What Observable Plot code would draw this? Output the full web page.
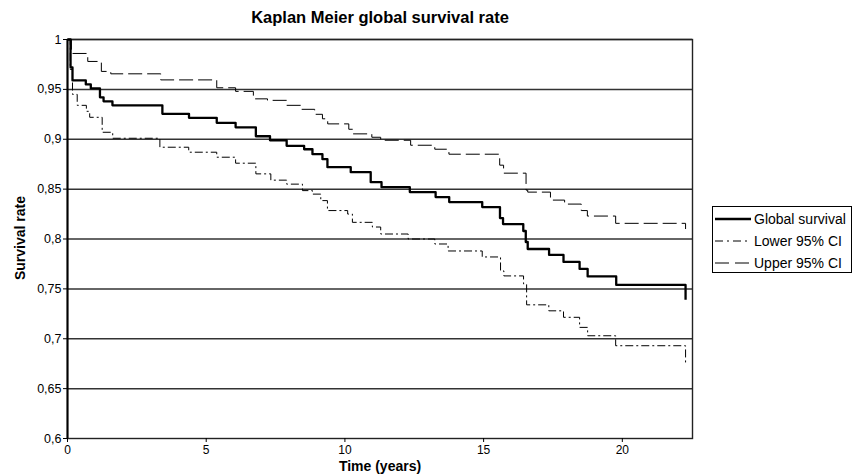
<!DOCTYPE html>
<html>
<head>
<meta charset="utf-8">
<script src="https://cdn.jsdelivr.net/npm/d3@7"></script>
<script src="https://cdn.jsdelivr.net/npm/@observablehq/plot@0.6"></script>
<style>
  html, body { margin: 0; padding: 0; background: #fff; }
  body { font-family: "Liberation Sans", Arial, sans-serif; color: #000; }
  #wrap { position: relative; width: 855px; height: 475px; overflow: hidden; }
  #title { position: absolute; left: 0; width: 760px; top: 7px; text-align: center; font-weight: bold; font-size: 16.5px; line-height: 20px; }
  #xlabel { position: absolute; left: 0; width: 760px; top: 457px; text-align: center; font-weight: bold; font-size: 14px; line-height: 18px; }
  #ylabel { position: absolute; left: 20px; top: 238px; transform: translate(-50%, -50%) rotate(-90deg); font-weight: bold; font-size: 14px; white-space: nowrap; }
  #legend { position: absolute; left: 712px; top: 206px; width: 138px; height: 65px; border: 1px solid #000; background: #fff; font-size: 14px; }
  .row { position: absolute; left: 1px; height: 20px; display: flex; align-items: center; white-space: nowrap; }
  .row svg { width: 38px; height: 10px; margin-right: 2px; flex: none; }
  #chart g[aria-label="y-axis tick label"] text { font-size: 12.5px; }
  #chart g[aria-label="x-axis tick label"] text { font-size: 12px; }
</style>
</head>
<body>
<div id="wrap">
  <div id="chart"></div>
  <div id="title">Kaplan Meier global survival rate</div>
  <div id="xlabel">Time (years)</div>
  <div id="ylabel">Survival rate</div>
  <div id="legend"></div>
</div>
<script>
// Global survival (Kaplan-Meier step function)
const globalT = [0, 0.11, 0.18, 0.66, 0.84, 1.17, 1.30, 1.62, 3.42, 4.38, 5.38, 6.06, 6.79, 7.30, 7.90, 8.53, 8.83, 9.19, 9.37, 10.21, 10.93, 11.32, 12.34, 13.27, 13.76, 14.95, 15.59, 15.70, 16.43, 16.52, 16.59, 17.36, 17.88, 18.46, 18.75, 19.78, 22.28];
const globalS = [1, 0.972, 0.959, 0.955, 0.951, 0.942, 0.938, 0.934, 0.9255, 0.9215, 0.9165, 0.912, 0.903, 0.899, 0.8934, 0.890, 0.885, 0.880, 0.872, 0.867, 0.857, 0.852, 0.847, 0.842, 0.837, 0.832, 0.821, 0.815, 0.808, 0.797, 0.790, 0.784, 0.777, 0.770, 0.7625, 0.754, 0.739];

// Lower 95% CI
const lowerT = [0, 0.10, 0.18, 0.35, 0.68, 0.80, 1.25, 1.63, 3.33, 4.37, 5.38, 6.06, 6.79, 7.33, 7.90, 8.47, 8.83, 9.13, 9.37, 10.10, 10.27, 10.99, 11.29, 12.28, 13.24, 13.72, 14.95, 15.61, 15.73, 16.44, 16.55, 17.35, 17.88, 18.46, 18.75, 19.76, 22.28];
const lowerS = [1, 0.970, 0.945, 0.934, 0.928, 0.922, 0.907, 0.901, 0.892, 0.887, 0.882, 0.876, 0.8653, 0.859, 0.855, 0.8485, 0.845, 0.8385, 0.8285, 0.825, 0.8167, 0.812, 0.805, 0.800, 0.795, 0.788, 0.782, 0.768, 0.763, 0.755, 0.734, 0.728, 0.7215, 0.7114, 0.703, 0.693, 0.674];

// Upper 95% CI
const upperT = [0, 0.14, 0.73, 1.22, 1.56, 3.36, 5.38, 6.06, 6.70, 7.21, 7.90, 8.44, 8.91, 9.19, 9.38, 10.14, 10.28, 10.97, 11.29, 12.37, 13.24, 13.75, 15.58, 15.72, 16.53, 16.59, 17.41, 17.92, 18.52, 18.74, 19.76, 22.28];
const upperS = [1, 0.986, 0.978, 0.968, 0.9656, 0.9595, 0.9516, 0.948, 0.9405, 0.939, 0.934, 0.930, 0.925, 0.9205, 0.9154, 0.910, 0.9054, 0.902, 0.899, 0.894, 0.890, 0.885, 0.874, 0.866, 0.849, 0.847, 0.839, 0.835, 0.8285, 0.823, 0.8157, 0.810];

const seriesNames = ["Global survival", "Lower 95% CI", "Upper 95% CI"];
const xTicks = [0, 5, 10, 15, 20];
const yTicks = [0.6, 0.65, 0.7, 0.75, 0.8, 0.85, 0.9, 0.95, 1];
const xDomain = [0, 22.53];
const yDomain = [0.6, 1];

const styles = {
  "Global survival": {strokeWidth: 2.3, dash: null, legendDash: null},
  "Lower 95% CI": {strokeWidth: 1, dash: "8,3,2,3", legendDash: "8,4,2,4"},
  "Upper 95% CI": {strokeWidth: 1, dash: "14,5", legendDash: "14,6"}
};

const toRows = (T, S, name) => T.map((t, i) => ({t, s: S[i], name}));
const data = {
  "Global survival": toRows(globalT, globalS, seriesNames[0]),
  "Lower 95% CI": toRows(lowerT, lowerS, seriesNames[1]),
  "Upper 95% CI": toRows(upperT, upperS, seriesNames[2])
};

const fmt = d => String(+d.toFixed(2)).replace(".", ",");

const chart = Plot.plot({
  width: 855,
  height: 475,
  marginLeft: 67,
  marginRight: 163,
  marginTop: 39,
  marginBottom: 37,
  style: {fontFamily: '"Liberation Sans", Arial, sans-serif', fontSize: "12px", color: "#000", background: "#fff"},
  x: {domain: xDomain, ticks: xTicks, label: null},
  y: {domain: yDomain, ticks: yTicks, label: null},
  marks: [
    Plot.ruleY(yTicks.slice(1), {stroke: "#333", strokeWidth: 1.5}),
    Plot.frame({stroke: "#222", strokeWidth: 1.4}),
    Plot.axisX({ticks: xTicks, tickSize: 4, tickPadding: 3, label: null, tickFormat: d => String(d)}),
    Plot.axisY({ticks: yTicks, tickSize: 4, tickPadding: 2, label: null, tickFormat: fmt}),
    ...[seriesNames[2], seriesNames[1], seriesNames[0]].map(n =>
      Plot.line(data[n], {x: "t", y: "s", curve: "step-after", stroke: "#000",
        strokeWidth: styles[n].strokeWidth, strokeDasharray: styles[n].dash, strokeLinecap: "butt"})),
    Plot.ruleX([0], {stroke: "#000", strokeWidth: 2})
  ]
});
document.getElementById("chart").appendChild(chart);

// Legend
const legend = document.getElementById("legend");
seriesNames.forEach((n, i) => {
  const row = document.createElement("div");
  row.className = "row";
  row.style.top = (2 + i * 22) + "px";
  const st = styles[n];
  row.innerHTML = `<svg viewBox="0 0 38 10"><line x1="1" y1="5" x2="37" y2="5" stroke="#000" stroke-width="${st.strokeWidth}" ${st.legendDash ? `stroke-dasharray="${st.legendDash}"` : ""}/></svg><span>${n}</span>`;
  legend.appendChild(row);
});
</script>
</body>
</html>
